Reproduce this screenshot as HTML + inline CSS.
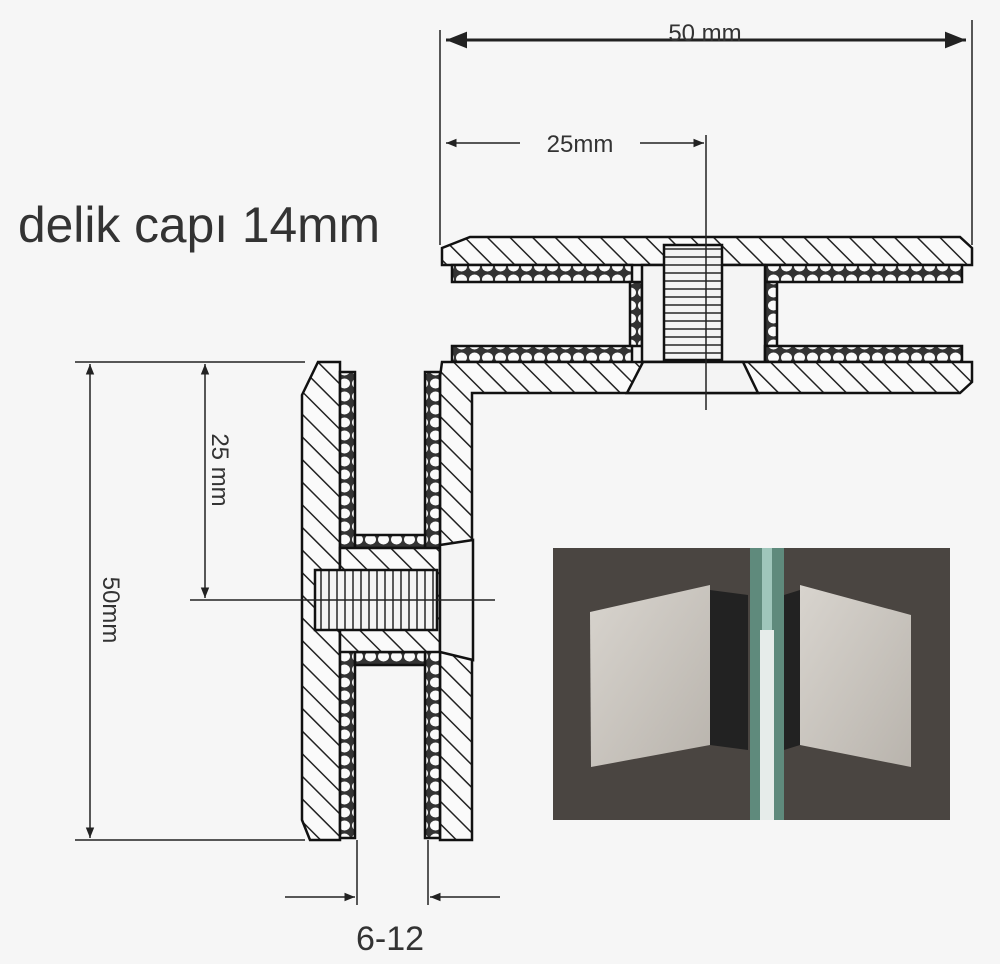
<!DOCTYPE html>
<html><head><meta charset="utf-8"><style>
html,body{margin:0;padding:0;background:#f6f6f6;}
svg{display:block}
</style></head><body>
<svg width="1000" height="964" viewBox="0 0 1000 964" xmlns="http://www.w3.org/2000/svg">
<defs>
<pattern id="h" width="16" height="16" patternUnits="userSpaceOnUse" patternTransform="rotate(-45)">
<rect width="16" height="16" fill="#fafafa"/><line x1="0" y1="0" x2="0" y2="16" stroke="#222" stroke-width="3"/>
</pattern>
<pattern id="g" width="13" height="13" patternUnits="userSpaceOnUse">
<rect width="13" height="13" fill="#333"/><ellipse cx="6.5" cy="6.5" rx="5.5" ry="5" fill="#fafafa"/>
</pattern>
<pattern id="t" width="8" height="8" patternUnits="userSpaceOnUse">
<rect width="8" height="8" fill="#f4f4f4"/><line x1="0" y1="1" x2="8" y2="1" stroke="#333" stroke-width="1.6"/>
</pattern>
<pattern id="tv" width="8" height="8" patternUnits="userSpaceOnUse">
<rect width="8" height="8" fill="#f4f4f4"/><line x1="1" y1="0" x2="1" y2="8" stroke="#333" stroke-width="1.6"/>
</pattern>
<marker id="a" viewBox="0 0 10 10" refX="10" refY="5" markerWidth="10" markerHeight="7" orient="auto-start-reverse"><path d="M0,1 L10,5 L0,9 z" fill="#222"/></marker>
<linearGradient id="pl" x1="0" y1="0" x2="1" y2="1"><stop offset="0" stop-color="#d8d4ce"/><stop offset="1" stop-color="#b9b4ad"/></linearGradient>
</defs>
<g stroke="#111" stroke-width="2.5">
<path d="M442,248 L470,237 L960,237 L972,248 L972,265 L442,265 Z" fill="url(#h)"/>
<rect x="452" y="265" width="180" height="17" fill="url(#g)"/>
<rect x="765" y="265" width="197" height="17" fill="url(#g)"/>
<rect x="630" y="282" width="12" height="64" fill="url(#g)"/>
<rect x="765" y="282" width="12" height="64" fill="url(#g)"/>
<rect x="642" y="265" width="123" height="97" fill="#f4f4f4"/>
<rect x="664" y="245" width="58" height="115" fill="url(#t)"/>
<rect x="452" y="346" width="180" height="16" fill="url(#g)"/>
<rect x="765" y="346" width="197" height="16" fill="url(#g)"/>
<path d="M442,362 L972,362 L972,382 L960,393 L472,393 L472,840 L440,840 L440,377 Z" fill="url(#h)"/>
<path d="M643,362 L743,362 L758,393 L627,393 Z" fill="#f4f4f4"/>
<path d="M318,362 L340,362 L340,840 L310,840 L302,820 L302,395 Z" fill="url(#h)"/>
<rect x="340" y="372" width="15" height="466" fill="url(#g)"/>
<rect x="425" y="372" width="15" height="466" fill="url(#g)"/>
<rect x="355" y="535" width="70" height="13" fill="url(#g)"/>
<rect x="355" y="652" width="70" height="13" fill="url(#g)"/>
<rect x="340" y="548" width="100" height="104" fill="url(#h)"/>
<path d="M440,545 L473,540 L473,660 L440,652 Z" fill="#f4f4f4"/>
<rect x="315" y="570" width="122" height="60" fill="url(#tv)"/>
</g>
<g stroke="#222" stroke-width="1.5" fill="none">
<line x1="440" y1="30" x2="440" y2="245"/>
<line x1="972" y1="20" x2="972" y2="245"/>
<line x1="446" y1="40" x2="966" y2="40" stroke-width="3" marker-start="url(#a)" marker-end="url(#a)"/>
<line x1="446" y1="143" x2="520" y2="143" marker-start="url(#a)"/>
<line x1="640" y1="143" x2="704" y2="143" marker-end="url(#a)"/>
<line x1="706" y1="135" x2="706" y2="410"/>
<line x1="75" y1="362" x2="305" y2="362"/>
<line x1="75" y1="840" x2="305" y2="840"/>
<line x1="90" y1="364" x2="90" y2="838" marker-start="url(#a)" marker-end="url(#a)"/>
<line x1="205" y1="364" x2="205" y2="598" marker-start="url(#a)" marker-end="url(#a)"/>
<line x1="190" y1="600" x2="495" y2="600"/>
<line x1="357" y1="840" x2="357" y2="905"/>
<line x1="428" y1="840" x2="428" y2="905"/>
<line x1="285" y1="897" x2="355" y2="897" marker-end="url(#a)"/>
<line x1="500" y1="897" x2="430" y2="897" marker-end="url(#a)"/>
</g>
<g font-family="Liberation Sans, sans-serif" fill="#333">
<text x="705" y="41" font-size="24" text-anchor="middle">50 mm</text>
<text x="580" y="152" font-size="24" text-anchor="middle">25mm</text>
<text x="18" y="242" font-size="50" textLength="362" lengthAdjust="spacingAndGlyphs">delik capı 14mm</text>
<text transform="translate(103,610) rotate(90)" font-size="24" text-anchor="middle">50mm</text>
<text transform="translate(212,470) rotate(90)" font-size="24" text-anchor="middle">25 mm</text>
<text x="390" y="950" font-size="34" text-anchor="middle">6-12</text>
</g>
<rect x="553" y="548" width="397" height="272" fill="#4a4541"/>
<rect x="750" y="548" width="34" height="272" fill="#5f8a7c"/>
<rect x="762" y="548" width="10" height="272" fill="#9fc6bb"/>
<path d="M710,590 L748,595 L748,750 L710,745 Z" fill="#222"/>
<path d="M784,595 L800,590 L800,745 L784,750 Z" fill="#222"/>
<rect x="760" y="630" width="14" height="190" fill="#e6ecea"/>
<path d="M590,612 L710,585 L710,745 L591,767 Z" fill="url(#pl)"/>
<path d="M800,585 L911,615 L911,767 L800,745 Z" fill="url(#pl)"/>
</svg>
</body></html>
